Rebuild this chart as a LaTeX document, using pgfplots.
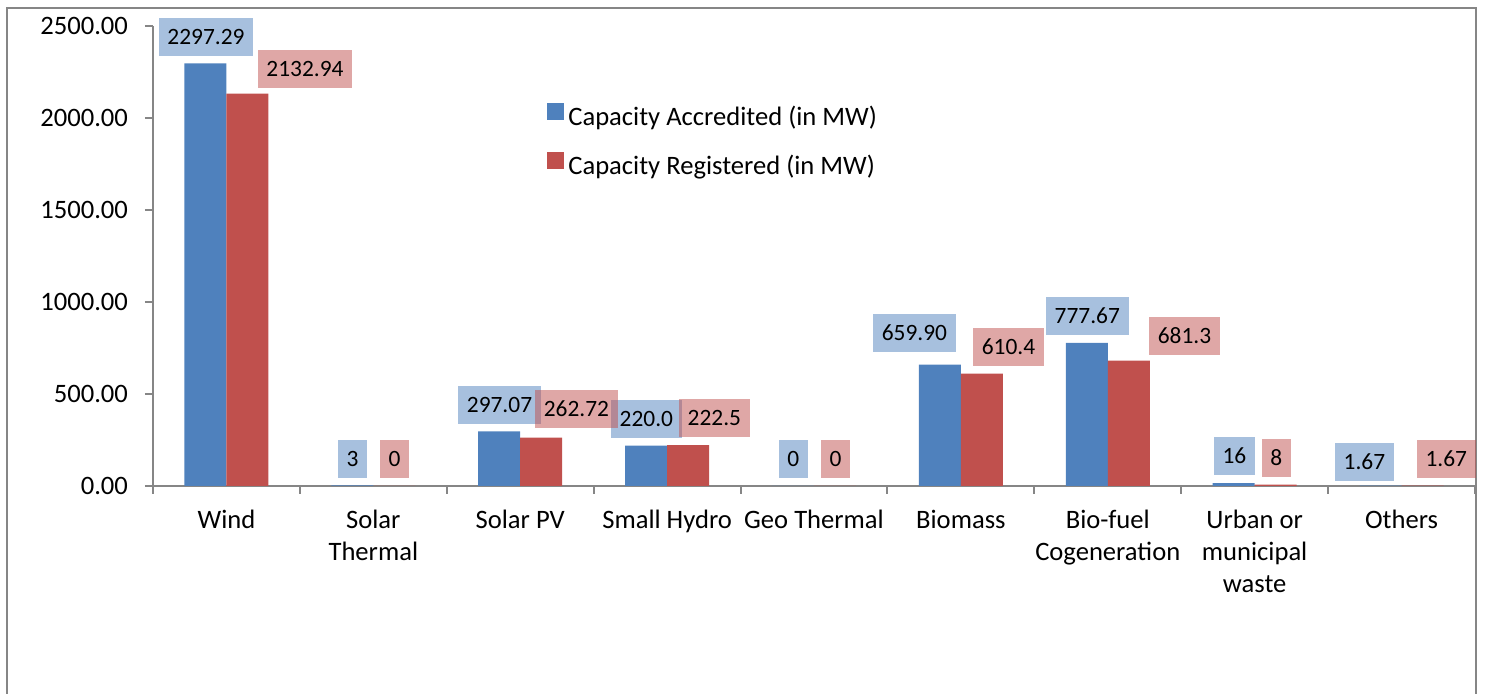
\documentclass[border=0pt]{standalone}
\usepackage{fontspec}
\setmainfont{Carlito}
\usepackage{pgfplots}
\usepackage{pgfplotstable}
\pgfplotsset{compat=1.18}

\definecolor{acc}{HTML}{4F81BD}
\definecolor{reg}{HTML}{C0504D}
\definecolor{axgray}{HTML}{868686}

% capacities per source
\pgfplotstableread{
x acc reg
0 2297.29 2132.94
1 3 0
2 297.07 262.72
3 220.0 222.5
4 0 0
5 659.90 610.4
6 777.67 681.3
7 16 8
8 1.67 1.67
}\capdata

% where the value boxes sit (moved by hand in the original)
\pgfplotstableread{
x y lab
-0.139 2440.2 2297.29
0.858 146.7 3
1.859 440.2 297.07
2.859 364.1 220.0
3.860 146.7 0
4.684 831.5 659.90
5.861 923.9 777.67
6.862 163.0 16
7.747 130.4 1.67
}\acclab
\pgfplotstableread{
x y lab
0.535 2266.3 2132.94
1.144 146.7 0
2.383 418.5 262.72
3.322 369.6 222.5
4.146 146.7 0
5.324 755.4 610.4
6.522 815.2 681.3
7.148 152.2 8
8.305 146.7 1.67
}\reglab

\newcommand{\lbl}{\fontsize{11.7}{14}\selectfont}
\newcommand{\bigtxt}{\fontsize{13.3}{16}\selectfont}

\begin{document}
\begin{tikzpicture}
\useasboundingbox (-76.5pt,-104pt) rectangle (666pt,243pt);
\draw[axgray, line width=1pt] (-73pt,-104pt) -- (-73pt,239pt) -- (661.5pt,239pt) -- (661.5pt,-104pt);
\begin{axis}[
  at={(0pt,0pt)}, anchor=south west,
  width=661pt, height=230pt, scale only axis,
  xmin=-0.5, xmax=8.5, ymin=0, ymax=2500,
  clip=false,
  axis lines*=left,
  axis line style={axgray, line width=1pt},
  tick style={axgray, line width=1pt},
  tick align=outside,
  major tick length=4pt, minor tick length=4pt,
  ytick={0,500,...,2500},
  xtick={0,...,8},
  xticklabels={Wind, Solar\\Thermal, Solar PV, Small Hydro, Geo Thermal, Biomass, Bio-fuel\\Cogeneration, Urban or\\municipal\\waste, Others},
  major x tick style={draw=none},
  minor xtick={-0.5,0.5,...,8.5},
  x tick label style={font=\bigtxt, align=center, yshift=-4.5pt},
  y tick label style={font=\bigtxt, xshift=-5pt},
  yticklabel style={/pgf/number format/.cd, fixed, fixed zerofill, precision=2, 1000 sep={}, assume math mode=true},
  legend cell align=left,
  legend style={at={(0.298,0.833)}, anchor=north west, draw=none, fill=none,
    inner sep=0pt, row sep=9.5pt, column sep=2pt, font=\bigtxt,
    nodes={inner sep=0pt, text height=9.5pt, text depth=3.5pt}},
]
\addplot[ybar, bar width=21pt, bar shift=-10.5pt, fill=acc, draw=none,
  legend image code/.code={\fill[acc] (0pt,-0.3pt) rectangle (8.5pt,8.2pt);}]
  table[x=x, y=acc] {\capdata};
\addlegendentry{Capacity Accredited (in MW)}
\addplot[ybar, bar width=21pt, bar shift=10.5pt, fill=reg, draw=none,
  legend image code/.code={\fill[reg] (0pt,-0.3pt) rectangle (8.5pt,8.2pt);}]
  table[x=x, y=reg] {\capdata};
\addlegendentry{Capacity Registered (in MW)}

\addplot[draw=none, forget plot, nodes near coords, point meta=explicit symbolic,
  every node near coord/.style={anchor=center, fill=acc, fill opacity=0.5, text opacity=1,
    inner xsep=4.3pt, inner ysep=0pt, minimum height=19pt, font=\lbl, text=black}]
  table[x=x, y=y, meta=lab] {\acclab};
\addplot[draw=none, forget plot, nodes near coords, point meta=explicit symbolic,
  every node near coord/.style={anchor=center, fill=reg, fill opacity=0.5, text opacity=1,
    inner xsep=4.3pt, inner ysep=0pt, minimum height=19pt, font=\lbl, text=black}]
  table[x=x, y=y, meta=lab] {\reglab};
\end{axis}
\end{tikzpicture}
\end{document}
